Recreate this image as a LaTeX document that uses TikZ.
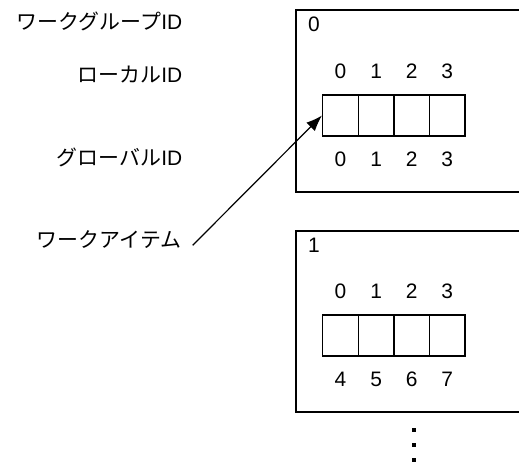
\documentclass[tikz,border=0pt]{standalone}
\usepackage{fontspec}
\setmainfont{Liberation Sans}
\newfontfamily\jp{Noto Sans CJK JP}
\usetikzlibrary{arrows.meta}

\begin{document}
\begin{tikzpicture}
          [x=0.75pt,y=-0.75pt,line width=1.1pt,
           every node/.style={font=\fontsize{15.7}{19}\selectfont},
           cell/.style={draw,shape=rectangle,inner sep=0pt,minimum width=26.7pt,minimum height=30.75pt},
           up/.style={label distance=8pt},
           down/.style={label distance=7.5pt},
           idname/.style={anchor=east,inner sep=0pt},
           ptr/.style={-{Latex[length=12pt,width=9pt]},line width=0.9pt}]

          \useasboundingbox (0,0) rectangle (519,466);

          % work groups (right side cut off)
          \draw (519,10) -| (296,192) -- (519,192);
          \draw (519,231) -| (296,412) -- (519,412);
          \node (g0) at (314,24) {0};
          \node (g1) at (314,245) {1};

          \node[cell,label={[up]90:0},label={[down]270:0}] (a0) at (340.5,115.5) {};
          \node[cell,label={[up]90:1},label={[down]270:1}] (a1) at (376.1,115.5) {};
          \node[cell,label={[up]90:2},label={[down]270:2}] (a2) at (411.7,115.5) {};
          \node[cell,label={[up]90:3},label={[down]270:3}] (a3) at (447.3,115.5) {};

          \node[cell,label={[up]90:0},label={[down]270:4}] (b0) at (340.5,335.5) {};
          \node[cell,label={[up]90:1},label={[down]270:5}] (b1) at (376.1,335.5) {};
          \node[cell,label={[up]90:2},label={[down]270:6}] (b2) at (411.7,335.5) {};
          \node[cell,label={[up]90:3},label={[down]270:7}] (b3) at (447.3,335.5) {};

          \node[idname] (wgid) at (183,21) {{\jp ワークグループ}ID};
          \node[idname] (lid) at (183,75) {{\jp ローカル}ID};
          \node[idname] (gid) at (183,157) {{\jp グローバル}ID};
          \node[idname] (item) at (182,240) {\jp ワークアイテム};

          \draw[ptr] ([xshift=8pt,yshift=-4pt]item.east) -- (a0.west);

          % more groups
          \fill (411.5,428) rectangle ++(4,4);
          \fill (411.5,443) rectangle ++(4,4);
          \fill (411.5,458) rectangle ++(4,4);
        \end{tikzpicture}
\end{document}
